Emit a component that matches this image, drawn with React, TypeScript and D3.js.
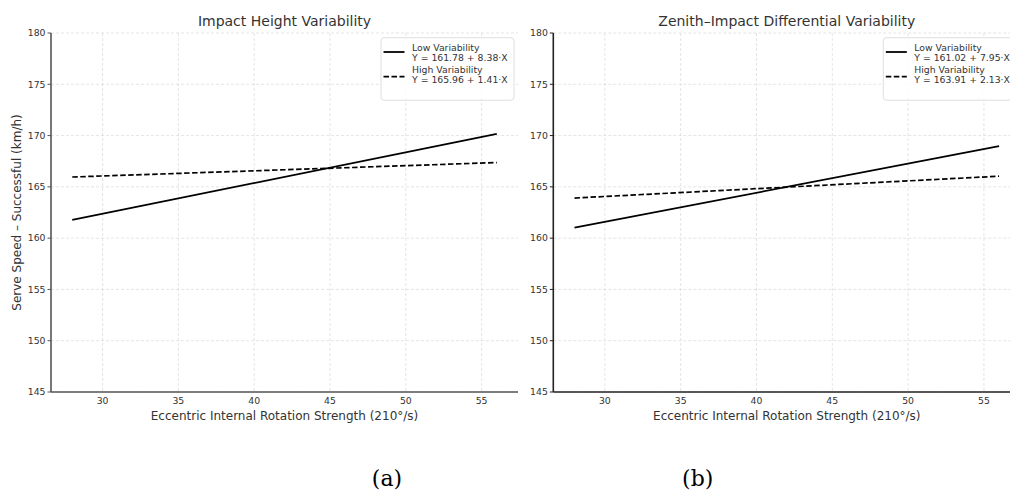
import React from 'react'
import * as d3 from 'd3'

// values
const xEnds = [28, 56]
const xTicks = [30, 35, 40, 45, 50, 55]
const yTicks = [145, 150, 155, 160, 165, 170, 175, 180]

const titles = ['Impact Height Variability', 'Zenith\u2013Impact Differential Variability']
const captions = ['(a)', '(b)']

const lowA = [161.78, 170.16]
const highA = [165.96, 167.37]
const lowB = [161.02, 168.97]
const highB = [163.91, 166.04]

const legendA = ['Y = 161.78 + 8.38\u00b7X', 'Y = 165.96 + 1.41\u00b7X']
const legendB = ['Y = 161.02 + 7.95\u00b7X', 'Y = 163.91 + 2.13\u00b7X']
const seriesNames = ['Low Variability', 'High Variability']

const W = 1010
const H = 491
const top = 33
const bottom = 392
const plotW = 467
const font = 'DejaVu Sans, sans-serif'
const ink = '#333'

const panels = [
  { left: 51, title: titles[0], caption: captions[0], capX: 387, low: lowA, high: highA, legend: legendA, spine: '#555', ylabel: true },
  { left: 553.3, title: titles[1], caption: captions[1], capX: 697.7, low: lowB, high: highB, legend: legendB, spine: '#222', ylabel: false },
]

const y = d3.scaleLinear().domain([145, 180]).range([bottom, top])

const Panel = ({ p }) => {
  const x = d3.scaleLinear().domain([26.6, 57.4]).range([p.left, p.left + plotW])
  const line = d3.line<number>().x((_, i) => x(xEnds[i])).y(v => y(v))
  const cx = p.left + plotW / 2
  const lx = p.left + plotW - 4 - 133
  const ly = 37.7
  return (
    <g>
      {/* grid */}
      {xTicks.map(t => (
        <line key={'gx' + t} x1={x(t)} x2={x(t)} y1={top} y2={bottom} stroke="#d8d8d8" strokeWidth={0.7} strokeDasharray="3,2" />
      ))}
      {yTicks.map(t => (
        <line key={'gy' + t} x1={p.left} x2={p.left + plotW} y1={y(t)} y2={y(t)} stroke="#d8d8d8" strokeWidth={0.7} strokeDasharray="3,2" />
      ))}
      {/* spines */}
      <line x1={p.left} x2={p.left} y1={top} y2={bottom} stroke={p.spine} strokeWidth={1.6} />
      <line x1={p.left} x2={p.left + plotW} y1={bottom} y2={bottom} stroke={p.spine} strokeWidth={1.6} />
      {yTicks.map(t => (
        <g key={'ty' + t}>
          <line x1={p.left - 3.5} x2={p.left} y1={y(t)} y2={y(t)} stroke={p.spine} strokeWidth={1} />
          <text x={p.left - 5.5} y={y(t) + 3.3} textAnchor="end" fontSize={9.3} fill={ink} fontFamily={font}>{t}</text>
        </g>
      ))}
      {xTicks.map(t => (
        <text key={'tx' + t} x={x(t)} y={404} textAnchor="middle" fontSize={9.3} fill={ink} fontFamily={font}>{t}</text>
      ))}
      {/* series */}
      <path d={line(p.low)} fill="none" stroke="#000" strokeWidth={1.7} />
      <path d={line(p.high)} fill="none" stroke="#000" strokeWidth={1.7} strokeDasharray="5.5,2.5" />
      {/* titles and labels */}
      <text x={cx} y={26} textAnchor="middle" fontSize={14} fill={ink} fontFamily={font}>{p.title}</text>
      <text x={cx} y={420} textAnchor="middle" fontSize={12} fill={ink} fontFamily={font}>Eccentric Internal Rotation Strength (210°/s)</text>
      {p.ylabel && (
        <text transform={`translate(21,${(top + bottom) / 2}) rotate(-90)`} textAnchor="middle" fontSize={12} fill={ink} fontFamily={font}>
          Serve Speed – Successful (km/h)
        </text>
      )}
      {/* legend */}
      <rect x={lx} y={ly} width={133} height={62.5} rx={3} fill="#fff" fillOpacity={0.85} stroke="#d6d6d6" strokeWidth={0.8} />
      <line x1={lx + 2.5} x2={lx + 23.5} y1={ly + 14.3} y2={ly + 14.3} stroke="#000" strokeWidth={1.8} />
      <line x1={lx + 2.5} x2={lx + 23.5} y1={ly + 39} y2={ly + 39} stroke="#000" strokeWidth={1.8} strokeDasharray="5.5,2.5" />
      {[0, 1].map(i => (
        <g key={'lg' + i} fontSize={9.3} fill={ink} fontFamily={font}>
          <text x={lx + 31} y={ly + 12.8 + i * 22}>{seriesNames[i]}</text>
          <text x={lx + 31} y={ly + 23.2 + i * 22}>{p.legend[i]}</text>
        </g>
      ))}
      <text x={p.capX} y={486} textAnchor="middle" fontSize={22} fill="#000" fontFamily="DejaVu Serif, serif">{p.caption}</text>
    </g>
  )
}

export default function App() {
  return (
    <svg width={W} height={H} style={{ position: 'absolute', left: 0, top: 0, background: '#fff' }}>
      <rect width={W} height={H} fill="#fff" />
      {panels.map((p, i) => <Panel key={i} p={p} />)}
    </svg>
  )
}
